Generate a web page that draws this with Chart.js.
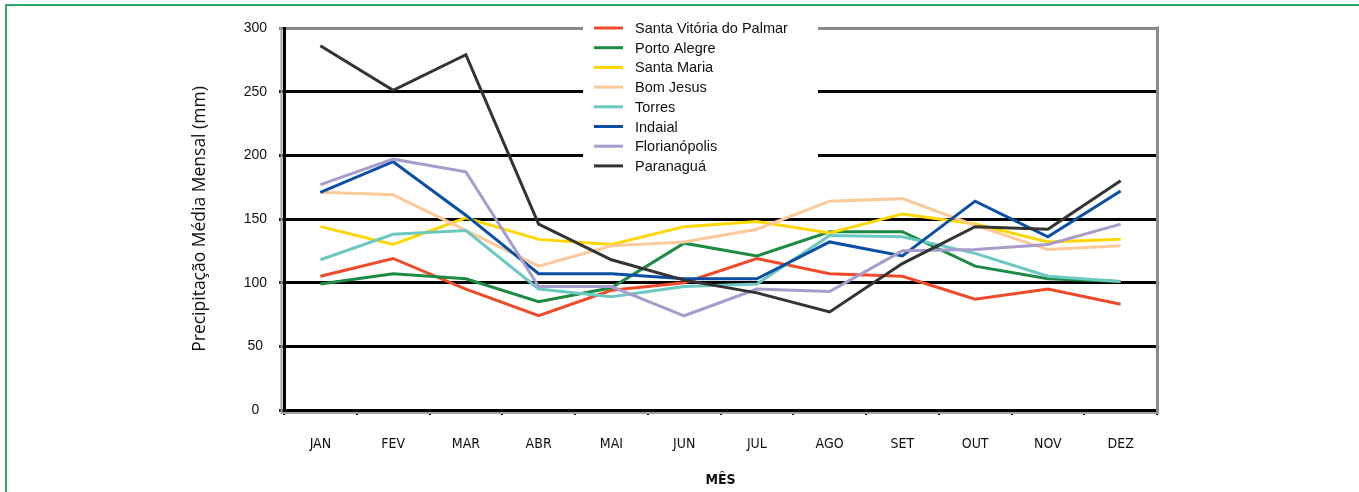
<!DOCTYPE html>
<html>
<head>
<meta charset="utf-8">
<script src="https://cdn.jsdelivr.net/npm/chart.js@4"></script>
<style>
  html, body { margin: 0; padding: 0; background: #fff; }
  #frame { position: absolute; left: 5px; top: 4px; width: 1352px; height: 520px;
           border-left: 2px solid #2fa86a; border-top: 2px solid #2fa86a; border-right: 2px solid #8fdcb8; }
  #c { position: absolute; left: 0; top: 0; }
</style>
</head>
<body>
<div id="frame"></div>
<canvas id="c" width="1359" height="492"></canvas>
<script>
const months = ["JAN","FEV","MAR","ABR","MAI","JUN","JUL","AGO","SET","OUT","NOV","DEZ"];
const santaVitoria = [105, 119, 95, 74, 94, 100, 119, 107, 105, 87, 95, 83];
const portoAlegre  = [99, 107, 103, 85, 96, 131, 121, 140, 140, 113, 103, 101];
const santaMaria   = [144, 130, 151, 134, 130, 144, 148, 139, 154, 146, 132, 134];
const bomJesus     = [171, 169, 141, 113, 129, 132, 142, 164, 166, 145, 126, 129];
const torres       = [118, 138, 141, 95, 89, 97, 99, 137, 136, 123, 105, 101];
const indaial      = [171, 195, 153, 107, 107, 103, 103, 132, 121, 164, 136, 172];
const florianopolis= [177, 197, 187, 97, 97, 74, 95, 93, 125, 126, 130, 146];
const paranagua    = [286, 251, 279, 146, 118, 102, 92, 77, 115, 144, 142, 180];
const yTicks = [0, 50, 100, 150, 200, 250, 300];

const seriesNames = ["Santa Vitória do Palmar","Porto Alegre","Santa Maria","Bom Jesus","Torres","Indaial","Florianópolis","Paranaguá"];
const seriesData = [santaVitoria, portoAlegre, santaMaria, bomJesus, torres, indaial, florianopolis, paranagua];
const seriesColors = ["#ef4b2a","#1e8b45","#ffd700","#fcc99b","#6cc9c1","#0a4fa3","#a89ccd","#333333"];

const legendPlugin = {
  id: 'boxLegend',
  afterDraw(chart) {
    const ctx = chart.ctx;
    const ca = chart.chartArea;
    ctx.save();
    ctx.strokeStyle = '#8a8a8a';
    ctx.lineWidth = 3;
    ctx.beginPath();
    ctx.moveTo(ca.right + 0.5, ca.top - 1.5);
    ctx.lineTo(ca.right + 0.5, ca.bottom + 2);
    ctx.stroke();
    ctx.strokeStyle = '#a0a0a0';
    ctx.lineWidth = 2;
    ctx.beginPath();
    ctx.moveTo(ca.left - 2.5, ca.top);
    ctx.lineTo(ca.left - 2.5, ca.bottom + 3);
    ctx.lineTo(ca.right + 2, ca.bottom + 3);
    ctx.stroke();
    const bx = 583, by = 12, bw = 235, bh = 170;
    ctx.fillStyle = '#ffffff';
    ctx.fillRect(bx, by, bw, bh);
    ctx.font = '14.5px "Liberation Sans", Arial, sans-serif';
    ctx.textBaseline = 'middle';
    ctx.textAlign = 'left';
    chart.data.datasets.forEach((ds, i) => {
      const y = 28 + i * 19.7;
      ctx.strokeStyle = ds.borderColor;
      ctx.lineWidth = 3;
      ctx.beginPath();
      ctx.moveTo(594, y);
      ctx.lineTo(623, y);
      ctx.stroke();
      ctx.fillStyle = '#111';
      ctx.fillText(ds.label, 635, y + 1);
    });
    ctx.restore();
  }
};

new Chart(document.getElementById('c'), {
  type: 'line',
  data: {
    labels: months,
    datasets: seriesNames.map((n, i) => ({
      label: n,
      data: seriesData[i],
      borderColor: seriesColors[i],
      backgroundColor: seriesColors[i],
      borderWidth: 3,
      pointRadius: 0,
      tension: 0,
      fill: false,
      order: seriesNames.length - i
    }))
  },
  options: {
    responsive: false,
    animation: false,
    events: [],
    layout: { padding: { left: 0, top: 28, right: 202, bottom: 0 } },
    plugins: { legend: { display: false }, tooltip: { enabled: false } },
    scales: {
      x: {
        offset: true,
        grid: { display: true, drawOnChartArea: false, drawTicks: true, tickLength: 5, color: '#000', lineWidth: 2, offset: true },
        border: { display: true, color: '#000', width: 3 },
        ticks: { color: '#111', font: { family: '"DejaVu Sans Condensed", "DejaVu Sans", sans-serif', size: 14 }, padding: 21, maxRotation: 0 },
        title: { display: true, text: 'MÊS', color: '#111', font: { family: '"DejaVu Sans Condensed", "DejaVu Sans", sans-serif', size: 14, weight: 'bold' }, padding: { top: 0, bottom: 3 } },
        afterFit(scale) { scale.height = 82; }
      },
      y: {
        min: 0, max: 300,
        afterBuildTicks(scale) { scale.ticks = yTicks.map(v => ({ value: v })); },
        grid: {
          drawTicks: true, tickLength: 5,
          color: (c) => (c.tick && c.tick.value === 300) ? '#8a8a8a' : '#000',
          lineWidth: 3
        },
        border: { display: true, color: '#000', width: 3 },
        ticks: { color: '#111', crossAlign: 'center', padding: 12, font: { family: '"Liberation Sans", Arial, sans-serif', size: 14 } },
        title: { display: true, text: 'Precipitação Média Mensal (mm)', color: '#111', font: { family: '"Open Sans", sans-serif', size: 17.5 }, padding: { top: 190, bottom: 0 } },
        afterFit(scale) { scale.width = 284; }
      }
    }
  },
  plugins: [legendPlugin]
});
</script>
</body>
</html>
